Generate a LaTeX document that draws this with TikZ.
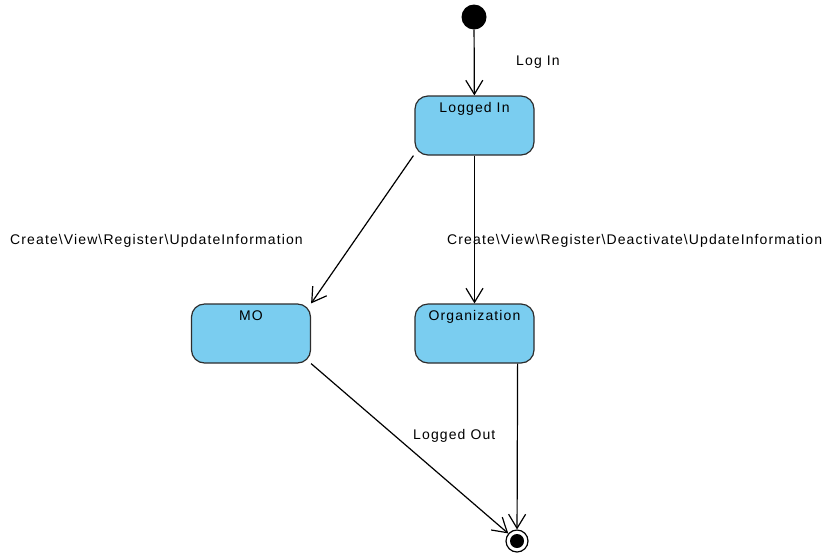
\documentclass[tikz,border=0pt]{standalone}
\usepackage{fontspec}
\setmainfont{Liberation Sans}[LetterSpace=8]
\usetikzlibrary{arrows.meta}
\definecolor{statefill}{RGB}{122,205,240}
\definecolor{stateline}{RGB}{45,45,45}
\begin{document}
\begin{tikzpicture}[x=1pt,y=-1pt,
  state/.style={draw=stateline, line width=1.2pt, fill=statefill, rounded corners=13pt,
    minimum width=119pt, minimum height=59pt, inner sep=0pt},
  stname/.style={anchor=north, inner sep=0pt, font=\fontsize{14}{16}\selectfont},
  trans/.style={draw=black, line width=1.2pt, -{Straight Barb[length=14pt,width=17pt,line width=1.2pt]}},
  lbl/.style={inner sep=0pt, font=\fontsize{14}{16}\selectfont},
]
\useasboundingbox (0,0) rectangle (826,558);

% initial and final pseudo-states
\node[circle, fill=black, minimum size=25pt, inner sep=0pt] (init) at (474,17) {};
\node[circle, draw=black, line width=1.2pt, fill=white, minimum size=22pt, inner sep=0pt] (final) at (517,541) {};
\node[circle, fill=black, minimum size=14pt, inner sep=0pt] (finaldot) at (517,541) {};

% states
\node[state] (loggedin) at (474.5,125.5) {};
\node[stname] (loggedinname) at ([yshift=-7pt]loggedin.north) {Logged In};
\node[state] (mo) at (251,333.5) {};
\node[stname] (moname) at ([yshift=-7pt]mo.north) {MO};
\node[state] (org) at (474.5,333.5) {};
\node[stname] (orgname) at ([yshift=-7pt]org.north) {Organization};

% transitions
\draw[trans] (init) -- (loggedin);
\draw[trans] (loggedin.south west) ++(-1,0) coordinate (lw) (lw) -- (mo.north east);
\draw[trans] (loggedin) -- (org);
\draw[trans] (mo.south east) -- (final);
\draw[trans] (org.south east) ++(-17,0) coordinate (os) (os) -- (final);

% transition labels
\node[lbl, anchor=west] (login) at (516,62) {Log In};
\node[lbl, anchor=west] (createmo) at (10,241) {Create\textbackslash View\textbackslash Register\textbackslash UpdateInformation};
\node[lbl, anchor=west] (createorg) at (447,241) {Create\textbackslash View\textbackslash Register\textbackslash Deactivate\textbackslash UpdateInformation};
\node[lbl, anchor=west] (loggedout) at (413,436) {Logged Out};
\end{tikzpicture}
\end{document}
